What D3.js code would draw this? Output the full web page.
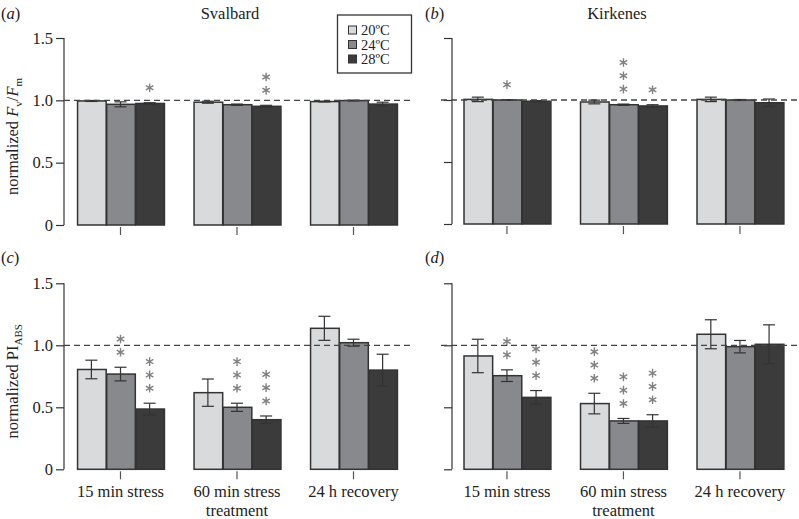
<!DOCTYPE html>
<html>
<head>
<meta charset="utf-8">
<script src="https://cdn.jsdelivr.net/npm/d3@7"></script>
<style>
  html, body { margin: 0; padding: 0; background: #fff; }
  svg { display: block; font-family: "Liberation Serif", "Times New Roman", serif; }
</style>
</head>
<body>
<svg id="chart" width="799" height="519"></svg>
<script>
// ---------- data ----------
const groups = ["15 min stress", "60 min stress treatment", "24 h recovery"];
const groupLines = [["15 min stress"], ["60 min stress", "treatment"], ["24 h recovery"]];
const seriesNames = ["20\u00baC", "24\u00baC", "28\u00baC"];
const yTicks = [0, 0.5, 1.0, 1.5];

// (a) Svalbard Fv/Fm
const aVal20 = [0.995, 0.985, 0.990], aErr20 = [0.004, 0.008, 0.003];
const aVal24 = [0.968, 0.965, 0.998], aErr24 = [0.020, 0.005, 0.003];
const aVal28 = [0.975, 0.952, 0.970], aErr28 = [0.006, 0.008, 0.015];
const aSig20 = [0, 0, 0], aSig24 = [0, 0, 0], aSig28 = [1, 2, 0];

// (b) Kirkenes Fv/Fm
const bVal20 = [1.005, 0.984, 1.005], bErr20 = [0.018, 0.015, 0.018];
const bVal24 = [1.000, 0.962, 1.000], bErr24 = [0.003, 0.005, 0.004];
const bVal28 = [0.990, 0.952, 0.978], bErr28 = [0.005, 0.010, 0.030];
const bSig20 = [0, 0, 0], bSig24 = [1, 3, 0], bSig28 = [0, 1, 0];

// (c) Svalbard PI_ABS
const cVal20 = [0.805, 0.618, 1.137], cErr20 = [0.075, 0.110, 0.097];
const cVal24 = [0.768, 0.500, 1.021], cErr24 = [0.055, 0.033, 0.028];
const cVal28 = [0.486, 0.400, 0.800], cErr28 = [0.047, 0.030, 0.128];
const cSig20 = [0, 0, 0], cSig24 = [2, 3, 0], cSig28 = [3, 3, 0];

// (d) Kirkenes PI_ABS
const dVal20 = [0.914, 0.530, 1.089], dErr20 = [0.135, 0.083, 0.117];
const dVal24 = [0.755, 0.390, 0.989], dErr24 = [0.047, 0.020, 0.050];
const dVal28 = [0.580, 0.390, 1.008], dErr28 = [0.055, 0.050, 0.157];
const dSig20 = [0, 3, 0], dSig24 = [2, 3, 0], dSig28 = [3, 3, 0];

// ---------- styles ----------
const fills = ["#d9dadc", "#88898c", "#3b3b3b"];
const ink = "#333";
const starColor = "#808080";
const fontSize = 16.5;

const svg = d3.select("#chart");

function buildSeries(vals, errs, sigs) {
  return vals.map((v, i) => ({ name: seriesNames[i], values: v, errors: errs[i], sig: sigs[i] }));
}

const panels = [
  { label: "a", title: "Svalbard", axisX: 64, xStart: 62.25, y0: 225, y15: 38, showYLabels: true, showXLabels: false,
    dashStart: 64, dashEnd: 412, ylab: "fvfm", titleX: 230,
    series: buildSeries([aVal20, aVal24, aVal28], [aErr20, aErr24, aErr28], [aSig20, aSig24, aSig28]) },
  { label: "b", title: "Kirkenes", axisX: 452, xStart: 448.7, y0: 224, y15: 38, showYLabels: false, showXLabels: false,
    dashStart: 441, dashEnd: 799, ylab: null, titleX: 617,
    series: buildSeries([bVal20, bVal24, bVal28], [bErr20, bErr24, bErr28], [bSig20, bSig24, bSig28]) },
  { label: "c", title: null, axisX: 64, xStart: 62.25, y0: 469.3, y15: 283.3, showYLabels: true, showXLabels: true,
    dashStart: 64, dashEnd: 412, ylab: "pi",
    series: buildSeries([cVal20, cVal24, cVal28], [cErr20, cErr24, cErr28], [cSig20, cSig24, cSig28]) },
  { label: "d", title: null, axisX: 452, xStart: 448.7, y0: 469.3, y15: 283.3, showYLabels: false, showXLabels: true,
    dashStart: 441, dashEnd: 799, ylab: null,
    series: buildSeries([dVal20, dVal24, dVal28], [dErr20, dErr24, dErr28], [dSig20, dSig24, dSig28]) }
];

const star = d3.symbol().type(d3.symbolAsterisk).size(52);

panels.forEach(p => {
  const g = svg.append("g");
  const y = d3.scaleLinear().domain([0, 1.5]).range([p.y0, p.y15]);
  const x0 = d3.scaleBand().domain(groups).range([p.xStart, p.xStart + 349.5]).paddingInner(0.25).paddingOuter(0.125);
  const x1 = d3.scaleBand().domain(seriesNames).range([0, x0.bandwidth()]);

  // y axis
  const yAxis = d3.axisLeft(y).tickValues(yTicks).tickSize(8).tickPadding(3)
    .tickFormat(d => p.showYLabels ? (d === 0 ? "0" : d3.format(".1f")(d)) : "");
  const ya = g.append("g").attr("transform", `translate(${p.axisX},0)`).call(yAxis);
  ya.select(".domain").attr("d", `M0,${y(1.5)}V${y(0)}`).attr("stroke", ink).attr("stroke-width", 1.2);
  ya.selectAll(".tick line").attr("stroke", ink).attr("stroke-width", 1.2);
  ya.selectAll(".tick text").attr("font-size", fontSize).attr("fill", "#222")
    .attr("font-family", "Liberation Serif, serif");

  // bars
  const grp = g.selectAll(".grp").data(groups).join("g")
    .attr("transform", d => `translate(${x0(d)},0)`);

  p.series.forEach((s, si) => {
    grp.append("rect")
      .attr("x", x1(s.name) + 0.75)
      .attr("width", x1.bandwidth() - 0.5)
      .attr("y", (d, gi) => y(s.values[gi]))
      .attr("height", (d, gi) => y(0) - y(s.values[gi]))
      .attr("fill", fills[si])
      .attr("stroke", ink)
      .attr("stroke-width", 1.5);
  });

  // error bars
  p.series.forEach((s, si) => {
    grp.each(function (d, gi) {
      const cx = x1(s.name) + x1.bandwidth() / 2;
      const top = y(s.values[gi] + s.errors[gi]);
      const bot = y(s.values[gi] - s.errors[gi]);
      const e = d3.select(this).append("g").attr("stroke", ink).attr("stroke-width", 1.2).attr("fill", "none");
      e.append("line").attr("x1", cx).attr("x2", cx).attr("y1", top).attr("y2", bot);
      e.append("line").attr("x1", cx - 6).attr("x2", cx + 6).attr("y1", top).attr("y2", top);
      e.append("line").attr("x1", cx - 6).attr("x2", cx + 6).attr("y1", bot).attr("y2", bot);
    });
  });

  // dashed reference line at 1.0
  g.append("line")
    .attr("x1", p.dashStart).attr("x2", p.dashEnd)
    .attr("y1", y(1)).attr("y2", y(1))
    .attr("stroke", "#444").attr("stroke-width", 1.3)
    .attr("stroke-dasharray", "6,4");

  // significance asterisks
  p.series.forEach((s, si) => {
    grp.each(function (d, gi) {
      const n = s.sig[gi];
      if (!n) return;
      const cx = x1(s.name) + x1.bandwidth() / 2;
      const base = y(s.values[gi] + s.errors[gi]) - 15;
      for (let k = 0; k < n; k++) {
        d3.select(this).append("path")
          .attr("d", star)
          .attr("transform", `translate(${cx},${base - k * 13.3})`)
          .attr("stroke", starColor).attr("stroke-width", 1.4).attr("fill", "none");
      }
    });
  });

  // x ticks
  groups.forEach(gname => {
    const cx = x0(gname) + x0.bandwidth() / 2;
    g.append("line").attr("x1", cx).attr("x2", cx)
      .attr("y1", p.y0 + 2).attr("y2", p.y0 + 10)
      .attr("stroke", "#555").attr("stroke-width", 1.2);
  });

  // x labels
  if (p.showXLabels) {
    groups.forEach((gname, gi) => {
      const cx = x0(gname) + x0.bandwidth() / 2;
      const t = g.append("text").attr("text-anchor", "middle").attr("font-size", fontSize).attr("fill", "#222");
      groupLines[gi].forEach((line, li) => {
        t.append("tspan").attr("x", cx).attr("y", p.y0 + 27.5 + li * 19).text(line);
      });
    });
  }

  // panel label
  const lx = p.axisX < 200 ? 1 : 425;
  const ly = p.y0 < 300 ? 19 : 263;
  const lt = g.append("text").attr("x", lx).attr("y", ly).attr("font-size", fontSize).attr("fill", "#222");
  lt.append("tspan").text("(");
  lt.append("tspan").attr("font-style", "italic").text(p.label);
  lt.append("tspan").text(")");

  // title
  if (p.title) {
    g.append("text").attr("x", p.titleX).attr("y", 19).attr("text-anchor", "middle")
      .attr("font-size", fontSize).attr("fill", "#222").text(p.title);
  }

  // y axis title
  if (p.ylab) {
    const cy = (p.y0 + p.y15) / 2 + 5;
    const t = g.append("text").attr("text-anchor", "middle")
      .attr("transform", `translate(17.5,${cy}) rotate(-90)`)
      .attr("font-size", fontSize).attr("fill", "#222");
    if (p.ylab === "fvfm") {
      t.append("tspan").text("normalized ");
      t.append("tspan").attr("font-style", "italic").text("F");
      t.append("tspan").attr("font-size", 11).attr("dy", 4).text("v");
      t.append("tspan").attr("dy", -4).text("/");
      t.append("tspan").attr("font-style", "italic").text("F");
      t.append("tspan").attr("font-size", 11).attr("dy", 4).text("m");
    } else {
      t.append("tspan").text("normalized PI");
      t.append("tspan").attr("font-size", 11).attr("dy", 4).text("ABS");
    }
  }
});

// legend
const leg = svg.append("g");
leg.append("rect").attr("x", 337.5).attr("y", 15).attr("width", 74).attr("height", 58)
  .attr("fill", "#fff").attr("stroke", ink).attr("stroke-width", 1.3);
seriesNames.forEach((name, i) => {
  const cy = 30 + i * 14.5;
  leg.append("rect").attr("x", 348.5).attr("y", cy - 4).attr("width", 8).attr("height", 8)
    .attr("fill", fills[i]).attr("stroke", ink).attr("stroke-width", 1);
  leg.append("text").attr("x", 361).attr("y", cy + 5).attr("font-size", 14.5)
    .attr("fill", "#222").text(name);
});
</script>
</body>
</html>
